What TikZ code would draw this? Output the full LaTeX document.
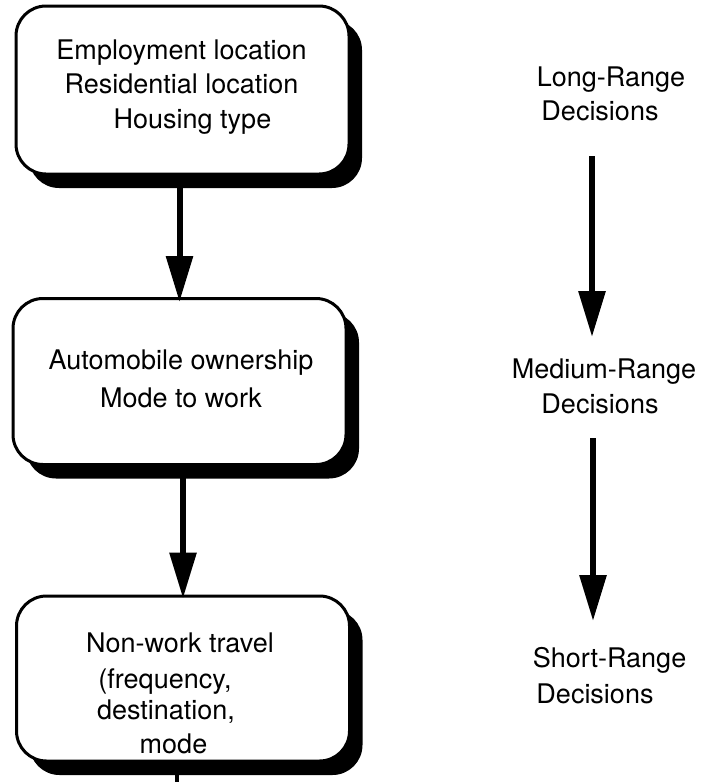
\documentclass[tikz,border=0pt]{standalone}
\usepackage{fontspec}
\setsansfont{TeX Gyre Heros}
\usetikzlibrary{calc,
                 shadows,
                 arrows.meta
  }

\begin{document}
\begin{tikzpicture}[
      x=1pt,
      y=-1pt,
      decision/.style={
                rectangle,
                rounded corners=30pt,
                draw=black,
                line width=3pt,
                minimum width=333pt,
                fill=white,
                drop shadow={shadow xshift=13pt, shadow yshift=-14pt, fill=black, opacity=1}
                },
      words/.style={
                inner sep=0pt,
                align=center,
                font=\sffamily\fontsize{27}{34.5}\selectfont
                },
      flow/.style={
                line width=6pt,
                -{Triangle[length=46pt,width=26pt]}
                },
      every node/.style={font=\sffamily}
]
\useasboundingbox (0,0) rectangle (702,782);

\node[decision, minimum height=168pt] (jobs) at (182.5,90) {};
\node[decision, minimum height=166pt] (cars) at (179.5,381.5) {};
\node[decision, minimum height=165pt] (trips) at (183,678.5) {};

\node[words] (jobstext) at ($ (jobs) + (-1,-3) $) {Employment location\\Residential location\\\hspace*{22pt}Housing type};
\node[words] (carstext) at ($ (cars) + (1.5,-3) $) {Automobile ownership\\[3.5pt]Mode to work};
\node[words] (tripstext) at ($ (trips) + (-3,14.5) $) {Non-work travel\\[1.5pt]\hspace*{-30pt}(frequency,\\[-3.5pt]\hspace*{-28pt}destination,\\[-0.5pt]\hspace*{-13pt}mode};

\node[words] (long) at (600,93.7) {\hspace*{22pt}Long-Range\\Decisions};
\node[words] (medium) at (600,386.5) {\hspace*{8pt}Medium-Range\\Decisions};
\node[words] (short) at (600,675.5) {\hspace*{19pt}Short-Range\\[1.5pt]\hspace*{-10pt}Decisions};

% left column
\draw[flow, shorten >=-5pt] (jobs.south -| cars.north) -- (cars.north);
\draw[flow, shorten >=-4pt] (cars.south -| trips.north) -- (trips.north);
\coordinate (cut) at (177,782);
\draw[line width=4pt] (trips.south -| cut) -- (cut);

% right column
\draw[flow, shorten <=35pt, shorten >=22pt] ([xshift=-8pt]long.south) -- ([xshift=-8pt]medium.north);
\draw[flow, shorten <=24pt, shorten >=26pt] ([xshift=-7pt]medium.south) -- ([xshift=-7pt]short.north);

\end{tikzpicture}
\end{document}
